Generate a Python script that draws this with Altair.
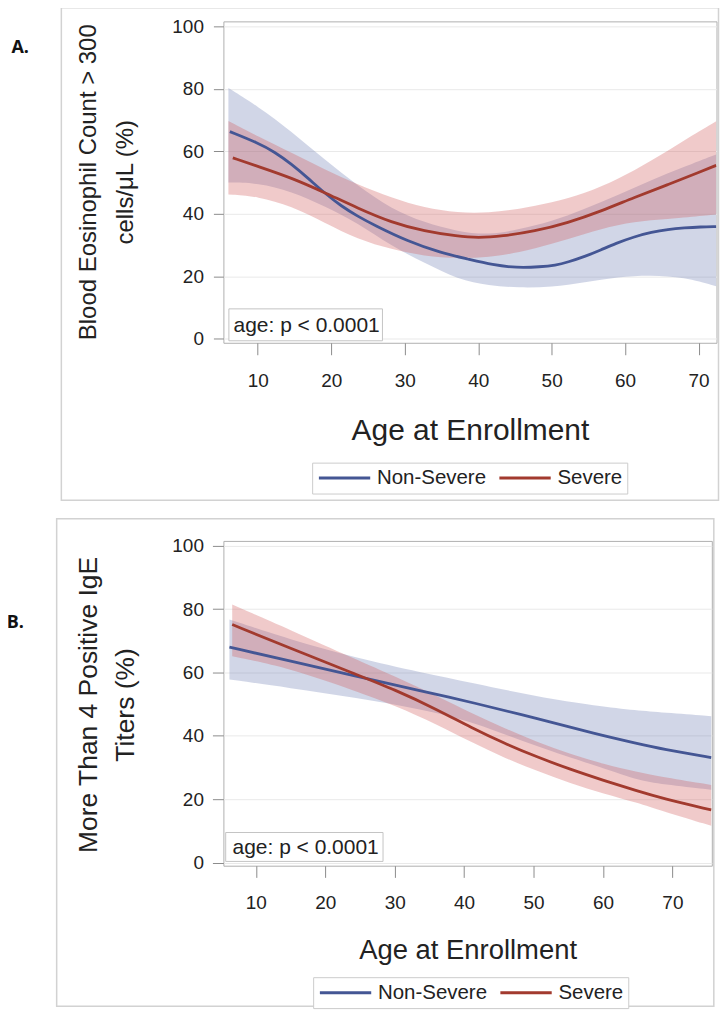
import altair as alt
import pandas as pd

FONT = "Liberation Sans"
GROUPS = ["Non-Severe", "Severe"]
LINE_COLORS = ["#445694", "#A23A2E"]
BAND_COLORS = ["#6F7EB3", "#D05B5B"]
NOTE_TEXT = "age: p < 0.0001"
X_TICKS = [10, 20, 30, 40, 50, 60, 70]
Y_TICKS = [0, 20, 40, 60, 80, 100]

# ---------------- Panel A: Blood eosinophil count > 300 cells/uL ----------------
A_BAND_AGE = [6.0, 10.0, 14.6, 19.1, 23.6, 28.2, 32.7, 37.2, 41.5, 45.5, 50.0, 54.5, 59.0, 63.5, 68.0, 72.4]
A_NS_HI = [80.3, 74.4, 66.4, 57.3, 49.0, 41.5, 37.2, 34.3, 33.2, 35.0, 37.5, 41.5, 46.0, 50.7, 55.0, 59.0]
A_NS_LO = [50.0, 49.9, 47.2, 42.4, 37.1, 29.6, 24.3, 19.0, 17.0, 16.3, 16.5, 18.0, 19.8, 20.4, 19.7, 16.8]
A_SV_HI = [69.7, 64.8, 59.5, 54.2, 49.4, 45.1, 41.9, 40.3, 40.3, 41.5, 43.5, 46.5, 51.0, 56.8, 63.5, 69.6]
A_SV_LO = [46.2, 45.6, 42.4, 37.1, 31.8, 28.6, 26.4, 25.7, 26.1, 27.5, 30.3, 33.6, 36.6, 38.0, 38.8, 39.8]
A_NS_AGE = [6.2, 10.0, 12.3, 14.6, 16.8, 19.1, 21.4, 23.6, 25.9, 30.4, 34.9, 38.6, 42.0, 45.2, 48.5,
            50.5, 52.2, 54.5, 56.7, 58.7, 61.3, 63.6, 65.8, 68.1, 70.3, 72.4]
A_NS_FIT = [66.3, 62.7, 59.8, 55.9, 51.5, 46.6, 42.4, 39.2, 36.3, 31.2, 27.5, 25.5, 23.6, 22.7, 23.0,
            23.5, 24.5, 26.3, 28.4, 30.5, 32.7, 34.1, 35.0, 35.5, 35.8, 35.9]
A_SV_AGE = [6.6, 10.0, 14.6, 19.1, 23.6, 28.2, 32.7, 37.2, 40.0, 43.2, 47.7, 52.2, 56.7, 61.3, 65.8, 70.3, 72.4]
A_SV_FIT = [57.9, 55.2, 51.5, 46.8, 41.8, 37.2, 34.4, 32.8, 32.3, 32.8, 34.4, 37.1, 40.8, 45.3, 49.3, 53.5, 55.5]

# ---------------- Panel B: More than 4 positive IgE titers ----------------
B_NS_AGE = [6.2, 14.9, 24.4, 34.0, 41.2, 50.5, 59.1, 64.9, 68.6, 75.6]
B_NS_FIT = [68.0, 63.6, 58.8, 54.1, 50.5, 45.5, 40.5, 37.6, 35.8, 33.1]
B_NS_HI = [76.7, 70.4, 64.6, 59.9, 56.7, 52.3, 49.4, 48.0, 47.3, 46.2]
B_NS_LO = [57.8, 55.1, 52.0, 48.3, 44.5, 36.5, 30.5, 26.0, 24.7, 23.0]
B_SV_AGE = [6.6, 14.9, 24.4, 30.0, 36.2, 41.0, 45.8, 50.5, 55.3, 60.1, 64.9, 68.6, 75.6]
B_SV_FIT = [75.1, 67.7, 59.4, 54.6, 48.2, 42.6, 37.6, 33.3, 29.4, 25.9, 22.6, 20.2, 16.6]
B_SV_HI = [81.4, 73.5, 64.1, 58.8, 52.4, 47.2, 42.4, 38.0, 34.3, 31.0, 28.6, 27.0, 24.5]
B_SV_LO = [65.1, 61.4, 54.1, 49.6, 43.5, 38.0, 33.0, 28.9, 25.0, 21.7, 18.9, 16.2, 11.6]

ONE = pd.DataFrame({"k": [0]})


def panel(ns_band, sv_band, lines_df, letter, letter_xy, w, h, xdom, ydom, ytitle, ytitle_size,
          ytitle_xy, xtitle_size, xtitle_y, xtick, xpad, ytick, ypad, frame, note_box,
          note_xy, legend_xy):
    xscale = alt.Scale(domain=xdom, nice=False, zero=False)
    yscale = alt.Scale(domain=ydom, nice=False, zero=False)
    xaxis = alt.Axis(values=X_TICKS, title="Age at Enrollment", titleFont=FONT,
                     titleFontSize=xtitle_size, titleFontWeight="normal", titleColor="#222222",
                     titleBaseline="alphabetic", titleY=xtitle_y,
                     labelFont=FONT, labelFontSize=19, labelColor="#222222",
                     tickSize=xtick, tickColor="#8c8c8c", labelPadding=xpad,
                     domain=False, grid=False, labelFlush=False)
    yaxis = alt.Axis(values=Y_TICKS, title=ytitle, titleFont=FONT, titleFontSize=ytitle_size,
                     titleFontWeight="normal", titleColor="#222222", titleAngle=270,
                     titleAlign="center", titleBaseline="middle", titleLineHeight=37,
                     titleX=ytitle_xy[0], titleY=ytitle_xy[1],
                     labelFont=FONT, labelFontSize=19, labelColor="#222222",
                     tickSize=ytick, tickColor="#8c8c8c", labelPadding=ypad,
                     domain=False, grid=True, gridColor="#e9e9e9", gridWidth=1)

    outer = alt.Chart(ONE).mark_rect(fillOpacity=0, stroke="#d2d2d2", strokeWidth=1.5).encode(
        x=alt.value(frame[0]), x2=alt.value(frame[1]),
        y=alt.value(frame[2]), y2=alt.value(frame[3]))

    band_layers = []
    for df, col in ((ns_band, BAND_COLORS[0]), (sv_band, BAND_COLORS[1])):
        band_layers.append(
            alt.Chart(df).mark_area(color=col, opacity=0.32, interpolate="basis", clip=True).encode(
                x=alt.X("age:Q", scale=xscale, axis=xaxis),
                y=alt.Y("lo:Q", scale=yscale, axis=yaxis),
                y2="hi:Q",
            )
        )

    lines = alt.Chart(lines_df).mark_line(strokeWidth=2.8, interpolate="basis", clip=True).encode(
        x=alt.X("age:Q", scale=xscale, axis=xaxis),
        y=alt.Y("fit:Q", scale=yscale, axis=yaxis),
        color=alt.Color("group:N", scale=alt.Scale(domain=GROUPS, range=LINE_COLORS),
                        legend=alt.Legend(orient="none", legendX=legend_xy[0], legendY=legend_xy[1],
                                          direction="horizontal", title=None, symbolType="stroke",
                                          symbolSize=2650, symbolStrokeWidth=3, clipHeight=21,
                                          labelFont=FONT, labelFontSize=20.5, labelColor="#222222",
                                          labelOffset=5, columnPadding=11, padding=5,
                                          strokeColor="#cccccc", fillColor="white")),
    )

    nbox = alt.Chart(ONE).mark_rect(fill="white", stroke="#c4c4c4", strokeWidth=1).encode(
        x=alt.value(note_box[0]), x2=alt.value(note_box[1]),
        y=alt.value(note_box[2]), y2=alt.value(note_box[3]))
    ntext = alt.Chart(ONE).mark_text(align="left", baseline="alphabetic", font=FONT,
                                     fontSize=21, color="#222222").encode(
        x=alt.value(note_xy[0]), y=alt.value(note_xy[1]), text=alt.value(NOTE_TEXT))

    ltext = alt.Chart(ONE).mark_text(align="left", baseline="middle", font="Open Sans",
                                     fontWeight="bold", fontSize=18, color="#111111").encode(
        x=alt.value(letter_xy[0]), y=alt.value(letter_xy[1]), text=alt.value(letter))

    return alt.layer(outer, *band_layers, lines, nbox, ntext, ltext).properties(width=w, height=h)


def band_df(age, lo, hi):
    return pd.DataFrame({"age": age, "lo": lo, "hi": hi})


def line_df(ns_age, ns_fit, sv_age, sv_fit):
    a = pd.DataFrame({"age": ns_age, "fit": ns_fit, "group": GROUPS[0]})
    b = pd.DataFrame({"age": sv_age, "fit": sv_fit, "group": GROUPS[1]})
    return pd.concat([a, b], ignore_index=True)


panel_a = panel(
    band_df(A_BAND_AGE, A_NS_LO, A_NS_HI), band_df(A_BAND_AGE, A_SV_LO, A_SV_HI),
    line_df(A_NS_AGE, A_NS_FIT, A_SV_AGE, A_SV_FIT),
    "A.", (-212.5, 26.3), 494.5, 322.3, [5.32, 72.44], [-1.3, 101.6],
    ["Blood Eosinophil Count > 300", "cells/μL (%)"], 24, (-135, 160.8),
    30, 97, 12, 17.3, 10, 10,
    (-162.5, 496.5, -13.7, 480.3), (5.5, 159.5, 288.3, 320.3), (10.2, 311.6), (89.0, 442.5),
)

panel_b = panel(
    band_df(B_NS_AGE, B_NS_LO, B_NS_HI), band_df(B_SV_AGE, B_SV_LO, B_SV_HI),
    line_df(B_NS_AGE, B_NS_FIT, B_SV_AGE, B_SV_FIT),
    "B.", (-217.2, 82.7), 489.8, 325.7, [5.33, 75.68], [-1.0, 101.5],
    ["More Than 4 Positive IgE", "Titers (%)"], 26.5, (-135.6, 164.0),
    27.5, 93, 11.7, 16.6, 11, 9,
    (-167.2, 491.8, -22.3, 466.7), (2.3, 160.1, 292.4, 321.4), (9.2, 314.0), (90.0, 437.5),
)

chart = (
    alt.vconcat(panel_a, panel_b, spacing=15)
    .resolve_scale(x="independent", y="independent", color="independent")
    .resolve_legend(color="independent")
    .properties(padding={"top": -3, "left": -2, "right": 0, "bottom": 0}, background="white")
    .configure_view(stroke="#b0b0b0", strokeWidth=1)
)

chart.save("out.html", embed_options={"renderer": "svg", "actions": False})
